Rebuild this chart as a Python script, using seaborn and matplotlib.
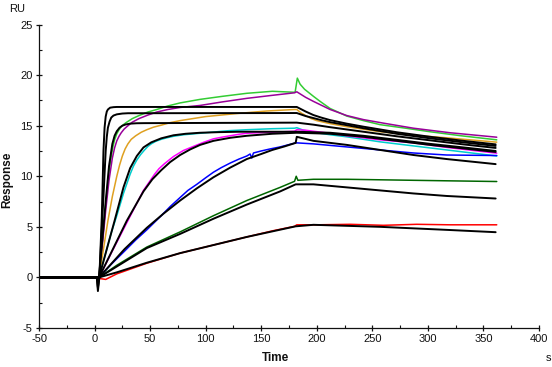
import matplotlib
matplotlib.use("Agg")
import matplotlib.pyplot as plt
import seaborn as sns
import pandas as pd
from matplotlib.ticker import MultipleLocator

# ---------------- data ----------------
base_t = [-50, 3]
base_v = [0, 0]

green_t = [4, 7, 10, 13, 15, 16.5, 18, 20, 22, 24, 26.5, 29, 34, 40, 48, 56, 66, 77, 95, 115, 137, 160, 180.5, 182.5, 185, 189, 197, 203, 212, 227, 242, 257, 280, 302, 330, 362]
green_v = [0, 3.5, 7.2, 10.5, 12.0, 12.9, 13.6, 14.2, 14.6, 14.9, 15.15, 15.35, 15.7, 16.0, 16.35, 16.6, 16.95, 17.25, 17.6, 17.9, 18.2, 18.4, 18.3, 19.7, 19.1, 18.6, 17.9, 17.4, 16.7, 15.95, 15.5, 15.1, 14.75, 14.4, 14.0, 13.6]

purple_t = [4, 7, 10, 13, 16, 18, 20, 22, 24, 26.5, 29, 34, 40, 48, 56, 66, 77, 95, 115, 137, 160, 180, 182, 190, 197, 212, 227, 242, 260, 287, 320, 362]
purple_v = [0, 3.2, 6.6, 9.6, 11.8, 12.8, 13.5, 13.95, 14.3, 14.65, 14.9, 15.35, 15.7, 16.05, 16.35, 16.6, 16.8, 17.0, 17.35, 17.7, 18.0, 18.25, 18.35, 17.8, 17.4, 16.6, 16.0, 15.6, 15.25, 14.75, 14.3, 13.86]

orange_t = [4, 8, 12, 16, 20, 22.5, 25, 27.5, 30, 33, 37, 42, 47, 53, 60, 68, 77, 100, 128, 155, 180, 182, 186, 190, 195, 200, 206, 212, 227, 257, 287, 317, 362]
orange_v = [0, 2.8, 5.6, 8.0, 10.0, 11.1, 12.0, 12.7, 13.2, 13.65, 14.0, 14.35, 14.6, 14.85, 15.05, 15.3, 15.5, 15.9, 16.2, 16.45, 16.6, 16.6, 16.25, 16.0, 15.7, 15.5, 15.35, 15.2, 14.9, 14.4, 14.05, 13.8, 13.37]

cyan_t = [4, 10, 15, 20, 26, 32, 35, 38, 41.5, 45, 48, 51, 55, 60, 65, 71, 80, 95, 120, 137, 160, 180, 182, 188, 197, 212, 227, 257, 287, 317, 362]
cyan_v = [0, 2.4, 4.4, 6.1, 8.3, 10.2, 11.0, 11.6, 12.15, 12.6, 12.95, 13.2, 13.45, 13.65, 13.8, 13.95, 14.1, 14.25, 14.5, 14.6, 14.7, 14.75, 14.8, 14.55, 14.35, 14.1, 13.9, 13.4, 13.0, 12.6, 12.0]

magenta_t = [4, 15, 29, 44, 54, 58, 63, 67, 71, 75.5, 80, 84.5, 89, 98, 107, 114, 122, 130, 137, 148, 160, 170, 180, 182, 190, 197, 212, 227, 257, 287, 317, 362]
magenta_v = [0, 2.4, 5.4, 8.6, 10.2, 10.75, 11.25, 11.6, 11.95, 12.25, 12.55, 12.75, 12.95, 13.35, 13.7, 13.85, 14.0, 14.15, 14.25, 14.3, 14.35, 14.4, 14.45, 14.6, 14.55, 14.45, 14.25, 14.0, 13.6, 13.3, 12.85, 12.28]

blue_t = [4, 15, 27, 37, 47, 60, 68, 77, 84, 92, 100, 107, 114, 122, 130, 137, 140, 141.5, 143, 150, 158, 167, 174, 181, 182, 197, 227, 257, 287, 317, 362]
blue_v = [0, 1.3, 2.6, 3.7, 4.7, 6.1, 7.0, 7.9, 8.6, 9.2, 9.85, 10.4, 10.85, 11.3, 11.7, 12.0, 12.2, 11.8, 12.3, 12.5, 12.7, 12.9, 13.1, 13.3, 13.3, 13.2, 12.9, 12.6, 12.3, 12.1, 12.05]

dkgreen_t = [4, 20, 47, 77, 107, 137, 167, 180, 181.5, 183, 197, 227, 257, 287, 317, 362]
dkgreen_v = [0, 1.2, 3.0, 4.5, 6.1, 7.6, 8.9, 9.5, 10.0, 9.6, 9.7, 9.7, 9.65, 9.6, 9.55, 9.48]

red_t = [4, 10, 20, 47, 77, 107, 137, 160, 180, 182, 200, 230, 260, 290, 320, 362]
red_v = [-0.1, -0.2, 0.35, 1.4, 2.4, 3.2, 4.0, 4.6, 5.05, 5.2, 5.2, 5.25, 5.15, 5.25, 5.2, 5.2]

fit1_t = [2, 3, 4.3, 6.5, 8, 9, 10, 11, 12, 14, 17, 20, 182, 190, 197, 204, 212, 227, 242, 272, 302, 332, 361]
fit1_v = [0, -1.35, 0, 6.0, 12.5, 14.8, 15.9, 16.4, 16.6, 16.78, 16.83, 16.85, 16.85, 16.4, 16.05, 15.8, 15.55, 15.2, 14.9, 14.35, 13.9, 13.5, 13.15]

fit2_t = [2, 3, 4.3, 8, 10, 11, 12, 13.5, 15, 17, 20, 25, 30, 182, 190, 197, 204, 212, 227, 242, 272, 302, 332, 361]
fit2_v = [0, -1.0, 0, 8.0, 12.5, 13.9, 14.8, 15.4, 15.8, 16.0, 16.12, 16.2, 16.23, 16.25, 15.95, 15.75, 15.55, 15.35, 15.05, 14.75, 14.2, 13.75, 13.35, 13.0]

fit3_t = [4, 10, 13, 16, 18, 20, 22.5, 25, 28, 32, 38, 45, 182, 197, 212, 242, 272, 302, 332, 361]
fit3_v = [0, 7.5, 11.0, 13.2, 14.0, 14.45, 14.8, 15.0, 15.12, 15.2, 15.24, 15.25, 15.3, 15.1, 14.85, 14.4, 13.95, 13.55, 13.15, 12.8]

fit4_t = [4, 18, 26, 32, 38, 44, 51, 60, 71, 82, 95, 112, 130, 182, 212, 242, 272, 302, 332, 361]
fit4_v = [0, 5.6, 8.9, 10.8, 12.0, 12.85, 13.35, 13.75, 14.05, 14.2, 14.3, 14.36, 14.4, 14.4, 14.3, 14.0, 13.6, 13.2, 12.85, 12.5]

fit5_t = [4, 29, 44, 52, 60, 68, 77, 86, 95, 107, 122, 137, 160, 182, 212, 242, 272, 302, 332, 361]
fit5_v = [0, 5.6, 8.5, 9.7, 10.6, 11.4, 12.1, 12.65, 13.1, 13.5, 13.8, 14.0, 14.2, 14.3, 14.2, 13.9, 13.5, 13.1, 12.75, 12.4]

fit6_t = [4, 27, 47, 62, 77, 92, 107, 122, 137, 150, 160, 171, 181, 182, 197, 227, 257, 287, 317, 361]
fit6_v = [0, 2.8, 4.9, 6.3, 7.6, 8.8, 9.9, 10.85, 11.7, 12.2, 12.6, 12.95, 13.3, 13.9, 13.5, 13.1, 12.6, 12.1, 11.7, 11.2]

fit7_t = [4, 47, 77, 107, 137, 167, 181, 197, 227, 257, 287, 317, 361]
fit7_v = [0, 2.9, 4.3, 5.8, 7.2, 8.5, 9.2, 9.2, 8.9, 8.6, 8.3, 8.05, 7.8]

fit8_t = [4, 20, 47, 77, 107, 137, 160, 181, 197, 227, 257, 287, 317, 361]
fit8_v = [0, 0.5, 1.45, 2.4, 3.2, 4.0, 4.55, 5.05, 5.2, 5.1, 5.0, 4.85, 4.7, 4.47]

colored = [
    ("green", green_t, green_v, "#33cc33"),
    ("purple", purple_t, purple_v, "#990099"),
    ("orange", orange_t, orange_v, "#dfa020"),
    ("cyan", cyan_t, cyan_v, "#00cccc"),
    ("magenta", magenta_t, magenta_v, "#ff00ff"),
    ("blue", blue_t, blue_v, "#0000ff"),
    ("dkgreen", dkgreen_t, dkgreen_v, "#006600"),
    ("red", red_t, red_v, "#ff0000"),
]
fits = [
    ("fit1", fit1_t, fit1_v), ("fit2", fit2_t, fit2_v), ("fit3", fit3_t, fit3_v),
    ("fit4", fit4_t, fit4_v), ("fit5", fit5_t, fit5_v), ("fit6", fit6_t, fit6_v),
    ("fit7", fit7_t, fit7_v), ("fit8", fit8_t, fit8_v),
]

# ---------------- build long tables ----------------
rows = []
for name, t, v, c in colored:
    for tt, vv in zip(base_t + t, base_v + v):
        rows.append((name, tt, vv))
df_col = pd.DataFrame(rows, columns=["series", "Time", "Response"])
pal_col = {name: c for name, t, v, c in colored}

rows = []
for name, t, v in fits:
    for tt, vv in zip(base_t[:1] + t, base_v[:1] + v):
        rows.append((name, tt, vv))
df_fit = pd.DataFrame(rows, columns=["series", "Time", "Response"])
pal_fit = {name: "#000000" for name, t, v in fits}

# ---------------- plot ----------------
sns.set_style("ticks")
plt.rcParams["font.family"] = ["Liberation Sans", "DejaVu Sans"]
plt.rcParams["axes.unicode_minus"] = False

fig = plt.figure(figsize=(5.52, 3.67), dpi=100)
ax = fig.add_axes([0.0707, 0.1063, 0.9764 - 0.0707, 0.9332 - 0.1063])

sns.lineplot(data=df_col, x="Time", y="Response", hue="series", palette=pal_col,
             estimator=None, sort=False, linewidth=1.1, legend=False, ax=ax)
sns.lineplot(data=df_fit, x="Time", y="Response", hue="series", palette=pal_fit,
             estimator=None, sort=False, linewidth=1.4, legend=False, ax=ax)

ax.set_xlim(-50, 400)
ax.set_ylim(-5, 25)
ax.xaxis.set_major_locator(MultipleLocator(50))
ax.xaxis.set_minor_locator(MultipleLocator(25))
ax.yaxis.set_major_locator(MultipleLocator(5))
ax.yaxis.set_minor_locator(MultipleLocator(2.5))
ax.tick_params(which="major", direction="inout", length=5, width=0.9, labelsize=8,
               colors="#111111", pad=2)
ax.tick_params(which="minor", direction="in", length=2.5, width=0.8, colors="#111111")
sns.despine(ax=ax)
for s in ("left", "bottom"):
    ax.spines[s].set_color("#111111")
    ax.spines[s].set_linewidth(0.9)
ax.set_xlabel("")
ax.set_ylabel("")

fig.text(7 / 552, 1 - 180 / 367, "Response", rotation=90, fontsize=8.5, fontweight="bold",
         ha="center", va="center", color="#111111")
fig.text(276 / 552, 1 - 358 / 367, "Time", fontsize=8.5, fontweight="bold",
         ha="center", va="center", color="#111111")
fig.text(17 / 552, 1 - 9 / 367, "RU", fontsize=8, ha="center", va="center", color="#111111")
fig.text(548 / 552, 1 - 358 / 367, "s", fontsize=8, ha="center", va="center", color="#111111")

fig.savefig("out.png", dpi=100)
